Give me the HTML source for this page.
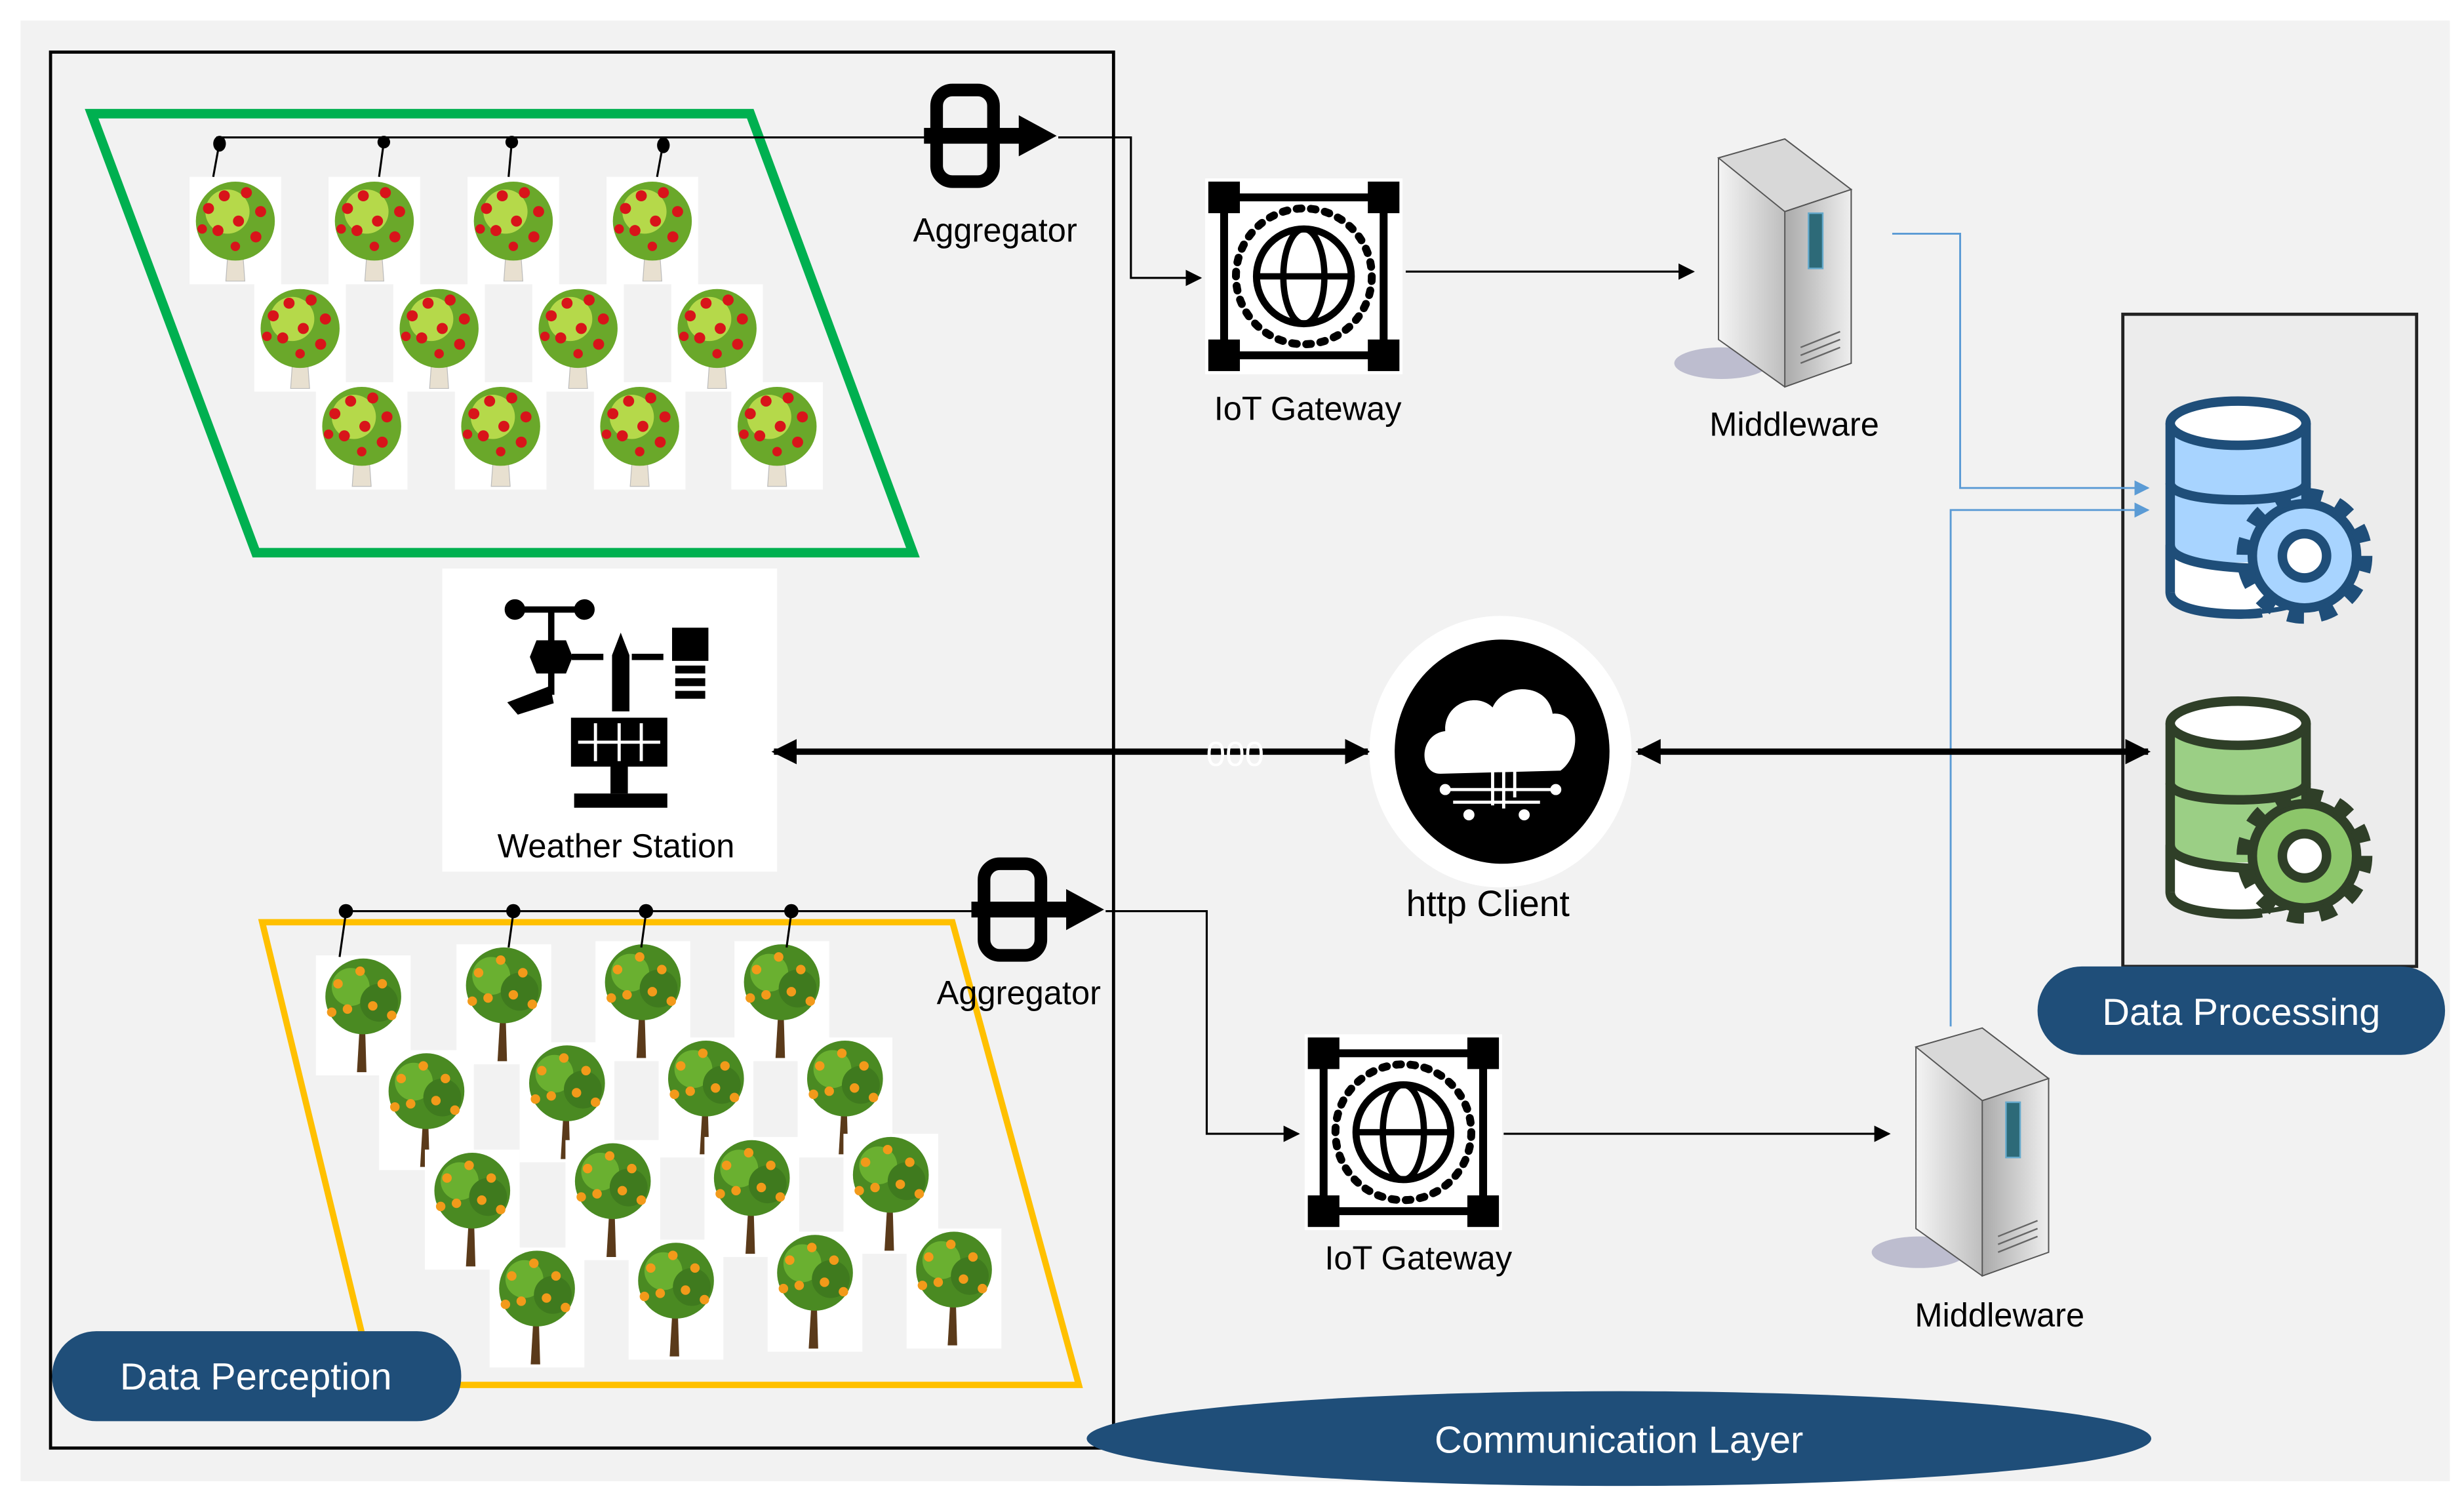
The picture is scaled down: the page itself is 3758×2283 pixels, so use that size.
<!DOCTYPE html>
<html><head><meta charset="utf-8"><style>html,body{margin:0;padding:0;background:#fff}svg{display:block}text{font-family:"Liberation Sans",sans-serif}</style></head>
<body>
<svg width="3758" height="2283" viewBox="0 0 1560 948" preserveAspectRatio="none" xmlns="http://www.w3.org/2000/svg">
<defs>
<marker id="ah" viewBox="0 0 10 10" refX="9" refY="5" markerWidth="4" markerHeight="4" orient="auto-start-reverse"><path d="M0,0L10,5L0,10z" fill="#000"/></marker>
<marker id="aht" viewBox="0 0 10 10" refX="9" refY="5" markerWidth="8" markerHeight="8" orient="auto-start-reverse"><path d="M0,0L10,5L0,10z" fill="#000"/></marker>
<marker id="ahb" viewBox="0 0 10 10" refX="9" refY="5" markerWidth="8" markerHeight="8" orient="auto-start-reverse"><path d="M0,0L10,5L0,10z" fill="#5b9bd5"/></marker>
<linearGradient id="sg" x1="0" x2="1"><stop offset="0" stop-color="#f4f4f4"/><stop offset="1" stop-color="#888"/></linearGradient>
<linearGradient id="sg2" x1="0" x2="1"><stop offset="0" stop-color="#aaa"/><stop offset="1" stop-color="#eee"/></linearGradient>
<g id="apple">
<rect x="0" y="0" width="58" height="68" fill="#fff"/>
<path d="M25,38 L23,66 L35,66 L33,38z" fill="#e8e0d0" stroke="#bbb" stroke-width="0.5"/>
<circle cx="29" cy="28" r="25" fill="#6aa82a"/>
<circle cx="24" cy="22" r="14" fill="#b5d94a"/>
<g fill="#d8141a"><circle cx="12" cy="20" r="3.5"/><circle cx="22" cy="12" r="3.5"/><circle cx="36" cy="10" r="3.5"/><circle cx="45" cy="22" r="3.5"/><circle cx="18" cy="34" r="3.5"/><circle cx="31" cy="28" r="3.5"/><circle cx="42" cy="38" r="3.5"/><circle cx="8" cy="33" r="3"/><circle cx="29" cy="44" r="3"/></g>
</g>
<g id="orange">
<rect x="0" y="0" width="60" height="76" fill="#fff"/>
<path d="M28,40 L26,74 L32,74 L31,40z" fill="#5a3a1a"/>
<circle cx="30" cy="26" r="24" fill="#4a8a22"/>
<circle cx="22" cy="20" r="12" fill="#6ab030"/><circle cx="40" cy="30" r="12" fill="#3f7a1e"/>
<g fill="#f29a1a"><circle cx="14" cy="18" r="3"/><circle cx="28" cy="10" r="3"/><circle cx="42" cy="18" r="3"/><circle cx="20" cy="34" r="3"/><circle cx="36" cy="32" r="3"/><circle cx="48" cy="38" r="3"/><circle cx="10" cy="36" r="3"/></g>
</g>
<g id="gw">
<rect x="0" y="0" width="125" height="124" fill="#fff"/>
<rect x="12" y="12" width="101" height="100" fill="none" stroke="#000" stroke-width="5"/>
<rect x="2" y="2" width="20" height="20" fill="#000"/><rect x="103" y="2" width="20" height="20" fill="#000"/>
<rect x="2" y="102" width="20" height="20" fill="#000"/><rect x="103" y="102" width="20" height="20" fill="#000"/>
<circle cx="62.5" cy="62" r="43" fill="none" stroke="#000" stroke-width="5" stroke-dasharray="3 6" stroke-linecap="round"/>
<circle cx="62.5" cy="62" r="30" fill="none" stroke="#000" stroke-width="4.5"/>
<ellipse cx="62.5" cy="62" rx="13" ry="30" fill="none" stroke="#000" stroke-width="4"/>
<line x1="32" y1="62" x2="93" y2="62" stroke="#000" stroke-width="4"/>
</g>
<g id="srv">
<ellipse cx="30" cy="140" rx="30" ry="10" fill="#9a9ab8" opacity="0.6"/>
<path d="M28,10 L70,-2 L112,30 L112,140 L70,155 L28,125z" fill="url(#sg)" stroke="#555" stroke-width="0.8"/>
<path d="M28,10 L70,-2 L112,30 L70,44z" fill="#d8d8d8" stroke="#555" stroke-width="0.8"/>
<path d="M70,44 L112,30 L112,140 L70,155z" fill="url(#sg2)" stroke="#555" stroke-width="0.8"/>
<rect x="85" y="45" width="9" height="35" fill="#2d6a78" stroke="#6ac" stroke-width="1"/>
<g stroke="#666" stroke-width="1"><line x1="80" y1="130" x2="105" y2="120"/><line x1="80" y1="135" x2="105" y2="125"/><line x1="80" y1="140" x2="105" y2="130"/></g>
</g>
</defs>

<rect x="0" y="0" width="1560" height="948" fill="#fff"/>
<rect x="13" y="13" width="1538" height="925" fill="#f2f2f2"/>

<rect x="32" y="33" width="673" height="884" fill="none" stroke="#000" stroke-width="2"/>

<rect x="1344" y="199" width="186" height="413" fill="#ececec" stroke="#222" stroke-width="2"/>

<polygon points="58,72 475,72 578,350 162,350" fill="none" stroke="#00b050" stroke-width="6"/>
<use href="#apple" x="120" y="112"/><use href="#apple" x="208" y="112"/><use href="#apple" x="296" y="112"/><use href="#apple" x="384" y="112"/>
<use href="#apple" x="161" y="180"/><use href="#apple" x="249" y="180"/><use href="#apple" x="337" y="180"/><use href="#apple" x="425" y="180"/>
<use href="#apple" x="200" y="242"/><use href="#apple" x="288" y="242"/><use href="#apple" x="376" y="242"/><use href="#apple" x="463" y="242"/>
<g stroke="#000" stroke-width="1.3"><line x1="137" y1="87" x2="590" y2="87"/><line x1="139" y1="90" x2="135" y2="112"/><line x1="243" y1="90" x2="240" y2="112"/><line x1="324" y1="90" x2="322" y2="112"/><line x1="420" y1="90" x2="416" y2="112"/></g>
<g fill="#000"><ellipse cx="139" cy="91" rx="4" ry="5"/><circle cx="243" cy="90" r="4"/><circle cx="324" cy="90" r="4"/><ellipse cx="420" cy="92" rx="4" ry="5"/></g>

<polygon points="166,584 603,584 683,877 237,877" fill="none" stroke="#ffc000" stroke-width="4"/>
<use href="#orange" x="200" y="605"/><use href="#orange" x="289" y="598"/><use href="#orange" x="377" y="596"/><use href="#orange" x="465" y="596"/>
<use href="#orange" x="240" y="665"/><use href="#orange" x="329" y="660"/><use href="#orange" x="417" y="657"/><use href="#orange" x="505" y="657"/>
<use href="#orange" x="269" y="728"/><use href="#orange" x="358" y="722"/><use href="#orange" x="446" y="720"/><use href="#orange" x="534" y="718"/>
<use href="#orange" x="310" y="790"/><use href="#orange" x="398" y="785"/><use href="#orange" x="486" y="780"/><use href="#orange" x="574" y="778"/>
<g stroke="#000" stroke-width="1.3"><line x1="218" y1="577" x2="620" y2="577"/><line x1="219" y1="578" x2="215" y2="606"/><line x1="325" y1="578" x2="322" y2="600"/><line x1="409" y1="578" x2="406" y2="600"/><line x1="501" y1="578" x2="498" y2="600"/></g>
<g fill="#000"><circle cx="219" cy="577" r="4.5"/><circle cx="325" cy="577" r="4.5"/><circle cx="409" cy="577" r="4.5"/><circle cx="501" cy="577" r="4.5"/></g>

<g transform="translate(585,55)">
<rect x="8" y="2" width="36" height="58" rx="10" fill="none" stroke="#000" stroke-width="8"/>
<rect x="0" y="26" width="62" height="10" fill="#000"/>
<path d="M60,18 L84,31 L60,44z" fill="#000"/>
</g>
<text x="630" y="153" font-size="21" text-anchor="middle">Aggregator</text>
<g transform="translate(615,545)">
<rect x="8" y="2" width="36" height="58" rx="10" fill="none" stroke="#000" stroke-width="8"/>
<rect x="0" y="26" width="62" height="10" fill="#000"/>
<path d="M60,18 L84,31 L60,44z" fill="#000"/>
</g>
<text x="645" y="636" font-size="21" text-anchor="middle">Aggregator</text>

<polyline points="670,87 716,87 716,176 760,176" fill="none" stroke="#000" stroke-width="1.3" marker-end="url(#aht)"/>
<line x1="890" y1="172" x2="1072" y2="172" stroke="#000" stroke-width="1.3" marker-end="url(#aht)"/>
<polyline points="700,577 764,577 764,718 822,718" fill="none" stroke="#000" stroke-width="1.3" marker-end="url(#aht)"/>
<line x1="952" y1="718" x2="1196" y2="718" stroke="#000" stroke-width="1.3" marker-end="url(#aht)"/>
<polyline points="1198,148 1241,148 1241,309 1360,309" fill="none" stroke="#5b9bd5" stroke-width="1.2" marker-end="url(#ahb)"/>
<polyline points="1235,650 1235,323 1360,323" fill="none" stroke="#5b9bd5" stroke-width="1.2" marker-end="url(#ahb)"/>

<use href="#gw" x="763" y="113"/>
<text x="828" y="266" font-size="21" text-anchor="middle">IoT Gateway</text>
<use href="#gw" x="826" y="655"/>
<text x="898" y="804" font-size="21" text-anchor="middle">IoT Gateway</text>
<use href="#srv" x="1060" y="90"/>
<text x="1136" y="276" font-size="21" text-anchor="middle">Middleware</text>
<use href="#srv" x="1185" y="653"/>
<text x="1266" y="840" font-size="21" text-anchor="middle">Middleware</text>

<rect x="280" y="360" width="212" height="192" fill="#fff"/>
<g fill="#000" stroke="#000">
<line x1="324" y1="386" x2="374" y2="386" stroke-width="4"/><circle cx="326" cy="386" r="6"/><circle cx="370" cy="386" r="6"/>
<line x1="349" y1="386" x2="349" y2="440" stroke-width="4"/>
<path d="M340,406 L358,406 L362,416 L358,426 L340,426 L336,416z"/>
<path d="M322,445 L348,435 L350,445 L328,452z"/>
<line x1="362" y1="416" x2="382" y2="416" stroke-width="4"/>
<path d="M388,415 L393,402 L398,415 L398,450 L388,450z"/>
<line x1="400" y1="416" x2="420" y2="416" stroke-width="4"/>
<rect x="426" y="398" width="22" height="20"/><rect x="428" y="422" width="18" height="4"/><rect x="428" y="430" width="18" height="4"/><rect x="428" y="438" width="18" height="4"/>
<rect x="362" y="455" width="60" height="30"/>
<rect x="387" y="485" width="10" height="17"/><rect x="364" y="503" width="58" height="8"/>
</g>
<g stroke="#fff" stroke-width="2"><line x1="366" y1="470" x2="418" y2="470"/><line x1="377" y1="458" x2="377" y2="482"/><line x1="392" y1="458" x2="392" y2="482"/><line x1="406" y1="458" x2="406" y2="482"/></g>
<text x="390" y="543" font-size="21" text-anchor="middle">Weather Station</text>

<line x1="490" y1="476" x2="866" y2="476" stroke="#000" stroke-width="4" marker-start="url(#ah)" marker-end="url(#ah)"/>
<text x="782" y="485" font-size="22" fill="#fff" text-anchor="middle">000</text>
<line x1="1037" y1="476" x2="1360" y2="476" stroke="#000" stroke-width="4" marker-start="url(#ah)" marker-end="url(#ah)"/>
<ellipse cx="950" cy="476" rx="83" ry="86" fill="#fff"/>
<ellipse cx="951" cy="476" rx="68" ry="71" fill="#000"/>
<path d="M912,490 C898,490 898,465 915,463 C914,445 935,438 945,448 C952,432 980,432 983,452 C1000,450 1002,478 988,488 Z" fill="#fff"/>
<g stroke="#fff" stroke-width="2" fill="#fff"><line x1="945" y1="470" x2="945" y2="510"/><line x1="952" y1="465" x2="952" y2="512"/><line x1="959" y1="462" x2="959" y2="505"/><line x1="915" y1="500" x2="985" y2="500"/><line x1="920" y1="508" x2="975" y2="508"/><circle cx="915" cy="500" r="2.5"/><circle cx="985" cy="500" r="2.5"/><circle cx="930" cy="516" r="2.5"/><circle cx="965" cy="516" r="2.5"/></g>
<text x="942" y="580" font-size="23" text-anchor="middle">http Client</text>

<g transform="translate(1372,250)">
<path d="M2,18 L2,125 C2,140 88,140 88,125 L88,18" fill="#a8d4ff" stroke="#1f4e79" stroke-width="6"/>
<path d="M2,95 C2,110 88,110 88,95 L88,125 C88,140 2,140 2,125z" fill="#fff"/>
<path d="M2,125 L2,95 M2,56 C2,70 88,70 88,56 M2,95 C2,110 60,110 60,110" fill="none" stroke="#1f4e79" stroke-width="6"/>
<path d="M2,125 C2,140 50,140 60,138" fill="none" stroke="#1f4e79" stroke-width="6"/>
<ellipse cx="45" cy="18" rx="43" ry="14" fill="#fff" stroke="#1f4e79" stroke-width="6"/>
<circle cx="87" cy="102" r="33" fill="#a8d4ff" stroke="#1f4e79" stroke-width="6"/>
<circle cx="87" cy="102" r="38" fill="none" stroke="#1f4e79" stroke-width="10" stroke-dasharray="10 10"/>
<circle cx="87" cy="102" r="14" fill="#fff" stroke="#1f4e79" stroke-width="6"/>
</g>
<g transform="translate(1372,440)">
<path d="M2,18 L2,125 C2,140 88,140 88,125 L88,18" fill="#9bcf85" stroke="#2f3f28" stroke-width="6"/>
<path d="M2,95 C2,110 88,110 88,95 L88,125 C88,140 2,140 2,125z" fill="#fff"/>
<path d="M2,125 L2,95 M2,56 C2,70 88,70 88,56 M2,95 C2,110 60,110 60,110" fill="none" stroke="#2f3f28" stroke-width="6"/>
<path d="M2,125 C2,140 50,140 60,138" fill="none" stroke="#2f3f28" stroke-width="6"/>
<ellipse cx="45" cy="18" rx="43" ry="14" fill="#fff" stroke="#2f3f28" stroke-width="6"/>
<circle cx="87" cy="102" r="33" fill="#8cc66a" stroke="#2f3f28" stroke-width="6"/>
<circle cx="87" cy="102" r="38" fill="none" stroke="#2f3f28" stroke-width="10" stroke-dasharray="10 10"/>
<circle cx="87" cy="102" r="14" fill="#fff" stroke="#2f3f28" stroke-width="6"/>
</g>

<rect x="33" y="843" width="259" height="57" rx="28" fill="#1f4e79"/>
<text x="162" y="880" font-size="24" fill="#fff" text-anchor="middle">Data Perception</text>
<rect x="1290" y="612" width="258" height="56" rx="28" fill="#1f4e79"/>
<text x="1419" y="649" font-size="24" fill="#fff" text-anchor="middle">Data Processing</text>
<ellipse cx="1025" cy="911" rx="337" ry="30" fill="#1f4e79"/>
<text x="1025" y="920" font-size="24" fill="#fff" text-anchor="middle">Communication Layer</text>
</svg>
</body></html>
